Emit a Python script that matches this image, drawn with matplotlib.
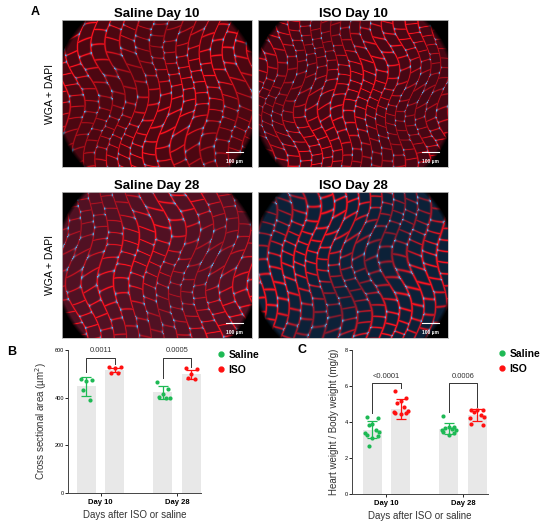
import numpy as np
import matplotlib.pyplot as plt
from matplotlib.lines import Line2D

# ---- data ----
days = ["Day 10", "Day 28"]
groups = ["Saline", "ISO"]
image_titles = ["Saline Day 10", "ISO Day 10", "Saline Day 28", "ISO Day 28"]

csa_mean = {"Saline": [447, 422], "ISO": [516, 498]}
csa_sd = {"Saline": [40, 28], "ISO": [10, 19]}
csa_pts = {
    "Saline": [[480, 476, 470, 432, 392], [467, 435, 414, 404, 400, 397]],
    "ISO": [[528, 527, 525, 505, 505], [523, 519, 498, 481, 478]],
}
csa_p = ["0.0011", "0.0005"]

hw_mean = {"Saline": [3.58, 3.63], "ISO": [4.72, 4.40]}
hw_sd = {"Saline": [0.48, 0.30], "ISO": [0.55, 0.35]}
hw_pts = {
    "Saline": [[4.30, 4.21, 3.88, 3.84, 3.56, 3.47, 3.38, 3.29, 3.20, 3.10, 2.68],
               [4.36, 3.75, 3.70, 3.66, 3.60, 3.56, 3.53, 3.47, 3.38, 3.29]],
    "ISO": [[5.75, 5.32, 5.19, 5.04, 4.86, 4.62, 4.54, 4.49, 4.49, 4.43],
            [4.67, 4.67, 4.64, 4.58, 4.40, 4.30, 4.25, 3.88, 3.84]],
}
hw_p = ["<0.0001", "0.0006"]

green = "#1db954"
red = "#ff1010"
bar_gray = "#e8e8e8"
colors = {"Saline": green, "ISO": red}

plt.rcParams['font.family'] = ['Liberation Sans', 'DejaVu Sans']

fig = plt.figure(figsize=(5.5, 5.26), dpi=100)


# ---- panel A: stand-in for the microscopy images ----
def tissue(w, h, cell, bg, mem_w, shift):
    y, x = np.mgrid[0:h, 0:w].astype(float)
    u = (x / cell + 0.55 * np.sin(y / (1.3 * cell) + shift)
         + 0.3 * np.sin((x + y) / (2.1 * cell) + 2 * shift))
    v = (y / cell + 0.55 * np.sin(x / (1.5 * cell) + 2 * shift)
         + 0.3 * np.sin((x - y) / (1.7 * cell) + shift) + 0.5 * np.floor(u))
    su = np.sin(np.pi * u) ** 2
    sv = np.sin(np.pi * v) ** 2
    mem = np.maximum(np.exp(-su / mem_w), np.exp(-sv / mem_w))
    mem = mem * (0.75 + 0.25 * np.sin(x / 23.0 + y / 31.0 + shift))
    # nuclei sit at some of the cell corners
    keep = np.sin(np.round(u) * 1.7 + np.round(v) * 2.3 + shift) > -0.2
    nuc = np.exp(-(su + sv) / 0.12) * keep
    img = np.ones((h, w, 3)) * np.array(bg)
    img = img * (1 - mem[..., None]) + np.array([1.0, 0.07, 0.12]) * mem[..., None]
    img = img * (1 - nuc[..., None]) + np.array([0.3, 0.75, 1.0]) * nuc[..., None]
    r = np.sqrt((x - w / 2) ** 2 + (y - h / 2) ** 2)
    mask = np.clip((104 - r) / 4, 0, 1)
    return np.clip(img * mask[..., None], 0, 1)


img_bg = [(0.30, 0.03, 0.07), (0.28, 0.03, 0.08), (0.32, 0.07, 0.14), (0.05, 0.13, 0.22)]
img_cells = [13, 11, 14, 13]
img_memw = [0.035, 0.04, 0.03, 0.07]
img_boxes = [
    [62 / 550, 1 - 167 / 526, 190 / 550, 147 / 526],
    [258 / 550, 1 - 167 / 526, 190 / 550, 147 / 526],
    [62 / 550, 1 - 338 / 526, 190 / 550, 146 / 526],
    [258 / 550, 1 - 338 / 526, 190 / 550, 146 / 526],
]
for i in range(4):
    ax = fig.add_axes(img_boxes[i])
    ax.imshow(tissue(190, 147, img_cells[i], img_bg[i], img_memw[i], i * 1.3),
              aspect='auto', interpolation='bilinear')
    ax.set_xticks([])
    ax.set_yticks([])
    for s in ax.spines.values():
        s.set_color("#bbbbbb")
        s.set_linewidth(0.6)
    ax.set_title(image_titles[i], fontsize=9.5, fontweight='bold', pad=2)
    ax.plot([0.865, 0.95], [0.1, 0.1], color='white', lw=0.8, transform=ax.transAxes)
    ax.text(0.91, 0.03, "100 µm", color='white', fontsize=3.5, ha='center',
            fontweight='bold', transform=ax.transAxes)
    if i % 2 == 0:
        ax.set_ylabel("WGA + DAPI", fontsize=7.5, labelpad=5)

fig.text(35 / 550, 1 - 12 / 526, "A", fontsize=9, fontweight='bold', va='center', ha='center')
fig.text(12 / 550, 1 - 352 / 526, "B", fontsize=9, fontweight='bold', va='center', ha='center')
fig.text(302 / 550, 1 - 350 / 526, "C", fontsize=9, fontweight='bold', va='center', ha='center')


# ---- panels B and C ----
def bar_panel(ax, means, sds, pts, pvals, ymax, yticks, ylabel, bracket, left_pad, right_pad):
    centers = np.array([0.0, 2.68])
    offs = {"Saline": -0.5, "ISO": 0.5}
    for g in groups:
        xs = centers + offs[g]
        ax.bar(xs, means[g], width=0.67, color=bar_gray, zorder=1)
        ax.errorbar(xs, means[g], yerr=sds[g], fmt='none', ecolor=colors[g],
                    elinewidth=0.9, capsize=3.5, capthick=0.9, zorder=3)
        for j in range(2):
            vals = np.array(pts[g][j])
            n = len(vals)
            jit = np.resize([-0.2, 0.2, 0.0, -0.12, 0.12, 0.25, -0.25], n)
            ax.scatter(xs[j] + jit, vals, s=9, color=colors[g], zorder=4, linewidths=0)
    top, legs, ptext = bracket
    for j in range(2):
        xl, xr = centers[j] - 0.5, centers[j] + 0.5
        ax.plot([xl, xl, xr, xr], [legs[j][0], top, top, legs[j][1]], color='#333333', lw=0.7)
        ax.text(centers[j], ptext, pvals[j], ha='center', va='center', fontsize=5.5, color='#333333')
    ax.set_xlim(-left_pad, centers[1] + right_pad)
    ax.set_ylim(0, ymax)
    ax.set_yticks(yticks)
    ax.set_xticks(centers)
    ax.set_xticklabels(days, fontsize=5.5, fontweight='bold')
    ax.tick_params(axis='y', labelsize=4, length=2, width=0.6, pad=1)
    ax.tick_params(axis='x', length=2, width=0.6, pad=2)
    ax.spines['top'].set_visible(False)
    ax.spines['right'].set_visible(False)
    for s in ['left', 'bottom']:
        ax.spines[s].set_linewidth(0.7)
        ax.spines[s].set_color('#444444')
    ax.set_ylabel(ylabel, fontsize=7, labelpad=4, color='#333333')
    ax.set_xlabel("Days after ISO or saline", fontsize=7, labelpad=3, color='#333333')


axB = fig.add_axes([68 / 550, 1 - 493 / 526, 133 / 550, 143 / 526])
bar_panel(axB, csa_mean, csa_sd, csa_pts, csa_p, 600, [0, 200, 400, 600],
          "Cross sectional area (µm$^2$)",
          (565, [(509, 540), (481, 530)], 596), 1.14, 0.84)

axC = fig.add_axes([352 / 550, 1 - 494 / 526, 136 / 550, 144 / 526])
bar_panel(axC, hw_mean, hw_sd, hw_pts, hw_p, 8, [0, 2, 4, 6, 8],
          "Heart weight / Body weight (mg/g)",
          (6.15, [(4.49, 5.87), (4.54, 4.86)], 6.52), 1.21, 0.88)

handles = [Line2D([], [], marker='o', ls='none', color=colors[g], markersize=3.5) for g in groups]
for x0, y0 in [(218 / 550, 1 - 350 / 526), (499 / 550, 1 - 349 / 526)]:
    fig.legend(handles, groups, loc='upper left', bbox_to_anchor=(x0, y0), frameon=False,
               prop={'weight': 'bold', 'size': 7.5}, handlelength=0.6, handletextpad=0.4,
               labelspacing=0.45, borderpad=0, borderaxespad=0)

fig.savefig("out.png", dpi=100)
